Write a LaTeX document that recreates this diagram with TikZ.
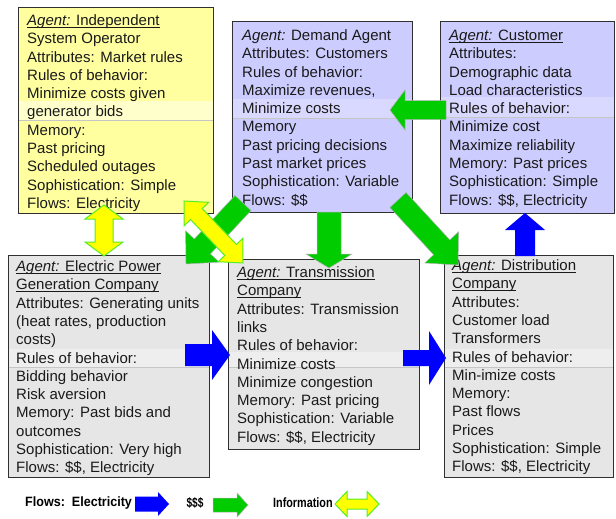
\documentclass[tikz,border=0pt]{standalone}
\usepackage{fontspec}
\usepackage{graphicx}
\setmainfont{Liberation Sans}
\usetikzlibrary{calc}
\definecolor{ybox}{HTML}{FFFFA0}
\definecolor{ystrip}{HTML}{FFFFCC}
\definecolor{lbox}{HTML}{CCCCFF}
\definecolor{lstrip}{HTML}{D9D9FF}
\definecolor{gbox}{HTML}{E6E6E6}
\definecolor{gstrip}{HTML}{EEEEEE}
\definecolor{bordercol}{HTML}{303030}
\definecolor{textcol}{HTML}{1A1A1A}
\definecolor{arrgreen}{HTML}{00CC00}
\definecolor{arrblue}{HTML}{0000FF}
\definecolor{arryellow}{HTML}{FFFF00}
\definecolor{ygreen}{HTML}{55EE22}
\newcommand\bxfont{\fontsize{15}{18.3}\selectfont}
\newcommand\agt{{\itshape Agent:}}
\newlength\myulw
\newcommand\myul[1]{\settowidth{\myulw}{#1}\rlap{\rule[-2pt]{\myulw}{0.8pt}}#1}
% block arrow: style, from, to, shaft half width, head half width, head length
\newcommand\blockarrow[6]{%
  \path (#2); \pgfgetlastxy{\baX}{\baY}%
  \path (#3); \pgfgetlastxy{\bbX}{\bbY}%
  \pgfmathsetmacro\baAng{atan2(\bbY-\baY,\bbX-\baX)}%
  \pgfmathsetmacro\baLen{veclen(\bbX-\baX,\bbY-\baY)}%
  \pgfmathsetmacro\baNeck{\baLen-#6}%
  \begin{scope}[shift={(#2)},rotate=\baAng]
    \path[#1] (0pt,-#4pt) -- ({\baNeck pt},-#4pt) -- ({\baNeck pt},-#5pt) -- ({\baLen pt},0pt)
      -- ({\baNeck pt},#5pt) -- ({\baNeck pt},#4pt) -- (0pt,#4pt) -- cycle;
  \end{scope}}
% double block arrow
\newcommand\dblarrow[6]{%
  \path (#2); \pgfgetlastxy{\baX}{\baY}%
  \path (#3); \pgfgetlastxy{\bbX}{\bbY}%
  \pgfmathsetmacro\baAng{atan2(\bbY-\baY,\bbX-\baX)}%
  \pgfmathsetmacro\baLen{veclen(\bbX-\baX,\bbY-\baY)}%
  \pgfmathsetmacro\baNeck{\baLen-#6}%
  \begin{scope}[shift={(#2)},rotate=\baAng]
    \path[#1] (0pt,0pt) -- (#6pt,-#5pt) -- (#6pt,-#4pt) -- ({\baNeck pt},-#4pt) -- ({\baNeck pt},-#5pt)
      -- ({\baLen pt},0pt) -- ({\baNeck pt},#5pt) -- ({\baNeck pt},#4pt) -- (#6pt,#4pt) -- (#6pt,#5pt) -- cycle;
  \end{scope}}
\tikzset{
  agentbox/.style={draw=bordercol, line width=1pt, anchor=north west, inner sep=0pt},
  boxtext/.style={anchor=base west, inner sep=0pt, font=\bxfont, text=textcol},
  stripline/.style={draw=gray!45, line width=0.5pt},
  greenarrow/.style={fill=arrgreen, draw=gray!60, line width=0.5pt},
  bluearrow/.style={fill=arrblue},
  yellowarrow/.style={fill=arryellow, draw=ygreen, line width=1pt},
  legendtext/.style={inner sep=0pt, font=\bfseries\fontsize{13.5}{15}\selectfont, text=black}
}
\begin{document}
\begin{tikzpicture}[x=1pt,y=-1pt]
\useasboundingbox (0,0) rectangle (616,519);
\fill[white] (0,0) rectangle (616,519);

% boxes
\node[agentbox, fill=ybox, minimum width=195pt, minimum height=206pt] (iso) at (18,7) {};
\node[agentbox, fill=lbox, minimum width=180pt, minimum height=191pt] (demand) at (232,21) {};
\node[agentbox, fill=lbox, minimum width=174pt, minimum height=192pt] (customer) at (440,21) {};
\node[agentbox, fill=gbox, minimum width=201pt, minimum height=222pt] (genco) at (8,255) {};
\node[agentbox, fill=gbox, minimum width=191pt, minimum height=190pt] (transco) at (228,259) {};
\node[agentbox, fill=gbox, minimum width=169pt, minimum height=222pt] (distco) at (444,255) {};

% scanned strips
\fill[ystrip] (18.5,101) rectangle (212.5,120);
\draw[stripline] (18.5,120) -- (212.5,120);
\fill[lstrip] (232.5,99) rectangle (411.5,118);
\draw[stripline] (232.5,118) -- (411.5,118);
\fill[lstrip] (440.5,97) rectangle (613.5,117);
\draw[stripline] (440.5,117) -- (613.5,117);
\fill[gstrip] (8.5,349) rectangle (208.5,367);
\draw[stripline] (8.5,367) -- (208.5,367);
\fill[gstrip] (228.5,352) rectangle (418.5,367);
\draw[stripline] (228.5,367) -- (418.5,367);
\fill[gstrip] (444.5,349) rectangle (612.5,367);
\draw[stripline] (444.5,367) -- (612.5,367);

% texts
\node[boxtext] (iso-t) at (27,25.5) {\begin{tabular}[t]{@{}l@{}}
\myul{\agt{} Independent}\\
System Operator\\
Attributes: Market rules\\
Rules of behavior:\\
Minimize costs given\\
generator bids\\
Memory:\\
Past pricing\\
Scheduled outages\\
Sophistication: Simple\\
Flows: Electricity
\end{tabular}};

\node[boxtext] (demand-t) at (242,40.5) {\begin{tabular}[t]{@{}l@{}}
\agt{} Demand Agent\\
Attributes: Customers\\
Rules of behavior:\\
Maximize revenues,\\
Minimize costs\\
Memory\\
Past pricing decisions\\
Past market prices\\
Sophistication: Variable\\
Flows: \$\$
\end{tabular}};

\node[boxtext] (customer-t) at (449,40.5) {\begin{tabular}[t]{@{}l@{}}
\myul{\agt{} Customer}\\
Attributes:\\
Demographic data\\
Load characteristics\\
Rules of behavior:\\
Minimize cost\\
Maximize reliability\\
Memory: Past prices\\
Sophistication: Simple\\
Flows: \$\$, Electricity
\end{tabular}};

\node[boxtext] (genco-t) at (16,271.5) {\begin{tabular}[t]{@{}l@{}}
\myul{\agt{} Electric Power}\\
\myul{Generation Company}\\
Attributes: Generating units\\
(heat rates, production\\
costs)\\
Rules of behavior:\\
Bidding behavior\\
Risk aversion\\
Memory: Past bids and\\
outcomes\\
Sophistication: Very high\\
Flows: \$\$, Electricity
\end{tabular}};

\node[boxtext] (transco-t) at (237,277.5) {\begin{tabular}[t]{@{}l@{}}
\myul{\agt{} Transmission}\\
\myul{Company}\\
Attributes: Transmission\\
links\\
Rules of behavior:\\
Minimize costs\\
Minimize congestion\\
Memory: Past pricing\\
Sophistication: Variable\\
Flows: \$\$, Electricity
\end{tabular}};

\node[boxtext] (distco-t) at (452,270.5) {\begin{tabular}[t]{@{}l@{}}
\myul{\agt{} Distribution}\\
\myul{Company}\\
Attributes:\\
Customer load\\
Transformers\\
Rules of behavior:\\
Min-imize costs\\
Memory:\\
Past flows\\
Prices\\
Sophistication: Simple\\
Flows: \$\$, Electricity
\end{tabular}};

% connector end points
\coordinate (isoS) at (104,205);   \coordinate (gencoN) at (104,256);
\coordinate (isoSE) at (184,201);  \coordinate (transcoNW) at (243,263);
\coordinate (demandSW) at (243,203); \coordinate (gencoNE) at (186,264);
\coordinate (demandS) at (329,212); \coordinate (transcoN) at (329,268);
\coordinate (demandSE) at (398,200); \coordinate (distcoNW) at (458,265);
\coordinate (customerW) at (446,110); \coordinate (demandE) at (390,110);
\coordinate (distcoN) at (525,256); \coordinate (customerS) at (525,213);
\coordinate (gencoE) at (185,355); \coordinate (transcoW) at (230,355);
\coordinate (transcoE) at (403,358); \coordinate (distcoW) at (446,358);

% money flows
\blockarrow{greenarrow}{demandSW}{gencoNE}{11}{23}{24}
\blockarrow{greenarrow}{demandS}{transcoN}{12}{23}{14}
\blockarrow{greenarrow}{demandSE}{distcoNW}{11}{23}{24}
\blockarrow{greenarrow}{customerW}{demandE}{9.5}{20}{15}
% electricity flows
\blockarrow{bluearrow}{distcoN}{customerS}{10}{20}{17}
\blockarrow{bluearrow}{gencoE}{transcoW}{11}{25}{18}
\blockarrow{bluearrow}{transcoE}{distcoW}{8}{27}{17}
% information flows
\dblarrow{yellowarrow}{isoS}{gencoN}{9}{19}{14}
\dblarrow{yellowarrow}{isoSE}{transcoNW}{8}{17}{18}

% legend
\node[legendtext, anchor=west] (lg-elec) at (25,503) {\scalebox{0.93}[1]{Flows:\ \ Electricity}};
\coordinate (lgb1) at (135,504); \coordinate (lgb2) at (169,504);
\blockarrow{bluearrow}{lgb1}{lgb2}{7.5}{12}{11}
\node[legendtext] (lg-money) at (195,503) {\scalebox{0.75}[1]{\$\$\$}};
\coordinate (lgg1) at (213,505); \coordinate (lgg2) at (248,505);
\blockarrow{greenarrow}{lgg1}{lgg2}{7}{12}{11}
\node[legendtext, anchor=west] (lg-info) at (273,503) {\scalebox{0.8}[1]{Information}};
\coordinate (lgy1) at (335,504); \coordinate (lgy2) at (379,504);
\dblarrow{yellowarrow}{lgy1}{lgy2}{5}{12.5}{12}
\end{tikzpicture}
\end{document}
